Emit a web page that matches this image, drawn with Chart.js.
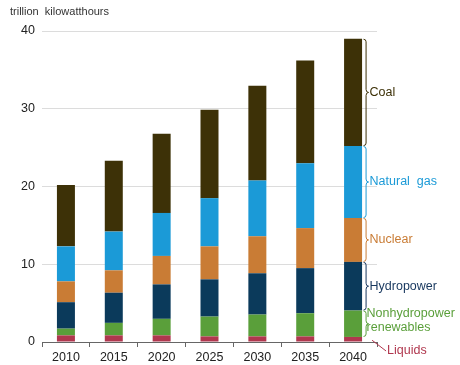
<!DOCTYPE html>
<html>
<head>
<meta charset="utf-8">
<script src="https://cdn.jsdelivr.net/npm/chart.js@4/dist/chart.umd.min.js"></script>
<style>
  body { margin: 0; background: #fff; }
  canvas { display: block; }
</style>
</head>
<body>
<canvas id="electricityChart" width="460" height="365"></canvas>
<script>
// Data (trillion kilowatthours)
const years = ['2010', '2015', '2020', '2025', '2030', '2035', '2040'];
const liquids = [0.85, 0.85, 0.85, 0.72, 0.72, 0.72, 0.65];
const renewables = [0.87, 1.61, 2.13, 2.55, 2.81, 2.98, 3.4];
const hydropower = [3.4, 3.88, 4.43, 4.79, 5.31, 5.8, 6.25];
const nuclear = [2.68, 2.88, 3.66, 4.24, 4.76, 5.15, 5.65];
const naturalGas = [4.5, 4.98, 5.53, 6.2, 7.16, 8.35, 9.25];
const coal = [7.9, 9.1, 10.2, 11.36, 12.19, 13.2, 13.8];
const yTicks = [0, 10, 20, 30, 40];

const seriesNames = ['Liquids', 'Nonhydropower\nrenewables', 'Hydropower', 'Nuclear', 'Natural  gas', 'Coal'];
const seriesColors = ['#b0374e', '#5a9f3a', '#0b3a5b', '#c97c35', '#1b9ad7', '#3d3107'];
const labelColors = ['#b0374e', '#5a9f3a', '#17375e', '#c97c35', '#1b9ad7', '#3d3107'];
const seriesData = [liquids, renewables, hydropower, nuclear, naturalGas, coal];

const FONT = '"Liberation Sans", Arial, sans-serif';

// braces + labels at the right of the last bar
const sideLabels = {
    id: 'sideLabels',
    afterDatasetsDraw(chart) {
        const ctx = chart.ctx;
        const last = years.length - 1;
        ctx.save();
        ctx.font = '12.5px ' + FONT;
        ctx.textBaseline = 'middle';
        ctx.textAlign = 'left';
        chart.data.datasets.forEach((ds, i) => {
            const bar = chart.getDatasetMeta(i).data[last];
            const right = bar.x + bar.width / 2;
            const top = bar.y;
            const bottom = bar.base;
            const mid = (top + bottom) / 2;
            ctx.strokeStyle = labelColors[i];
            ctx.fillStyle = labelColors[i];
            ctx.lineWidth = 1;
            if (i === 0) {
                // leader line for Liquids
                ctx.beginPath();
                ctx.moveTo(right + 10, mid + 1);
                ctx.lineTo(right + 24, chart.chartArea.bottom + 9);
                ctx.stroke();
                ctx.fillText(ds.label, right + 25, chart.chartArea.bottom + 9);
                return;
            }
            const x = right + 1.5;
            const w = 5;
            const r = 3;
            ctx.beginPath();
            ctx.moveTo(x, top + 0.5);
            ctx.quadraticCurveTo(x + w / 2, top + 0.5, x + w / 2, top + r);
            ctx.lineTo(x + w / 2, mid - r);
            ctx.quadraticCurveTo(x + w / 2, mid, x + w, mid);
            ctx.quadraticCurveTo(x + w / 2, mid, x + w / 2, mid + r);
            ctx.lineTo(x + w / 2, bottom - r);
            ctx.quadraticCurveTo(x + w / 2, bottom - 0.5, x, bottom - 0.5);
            ctx.stroke();
            const lines = ds.label.split('\n');
            const lh = 13.5;
            const shift = lines.length > 1 ? -3 : 0;
            const tx = lines.length > 1 ? x + w - 2 : x + w + 1;
            lines.forEach((t, k) => {
                ctx.fillText(t, tx, mid + shift + (k - (lines.length - 1) / 2) * lh);
            });
        });
        ctx.restore();
    },
    afterDraw(chart) {
        const ctx = chart.ctx;
        ctx.save();
        ctx.font = '11px ' + FONT;
        ctx.fillStyle = '#333';
        ctx.textBaseline = 'middle';
        ctx.fillText('trillion  kilowatthours', 10, 12);
        ctx.restore();
    }
};

const ctxChart = document.getElementById('electricityChart').getContext('2d');
const electricityChart = new Chart(ctxChart, {
    type: 'bar',
    data: {
        labels: years,
        datasets: seriesData.map((d, i) => ({
            label: seriesNames[i],
            data: d,
            backgroundColor: seriesColors[i],
            borderWidth: 0,
            barPercentage: 0.376,
            categoryPercentage: 1
        }))
    },
    options: {
        responsive: false,
        animation: false,
        layout: { padding: { top: 31, right: 83, bottom: 0, left: 0 } },
        plugins: { legend: { display: false }, tooltip: { enabled: false } },
        scales: {
            x: {
                stacked: true,
                grid: { offset: true, drawOnChartArea: false, drawTicks: true, tickLength: 5, color: '#666' },
                border: { display: true, color: '#666', width: 1 },
                ticks: { color: '#222', font: { family: FONT, size: 12.5 }, padding: 3, maxRotation: 0 },
                afterFit(scale) { scale.height = 23; }
            },
            y: {
                stacked: true,
                min: 0,
                max: 40,
                afterBuildTicks(scale) { scale.ticks = yTicks.map(v => ({ value: v })); },
                grid: {
                    drawTicks: false,
                    color: c => (c.tick && c.tick.value === 0) ? 'rgba(0,0,0,0)' : '#dcdcdc'
                },
                border: { display: false },
                ticks: { color: '#222', font: { family: FONT, size: 12.5 }, padding: 7 },
                afterFit(scale) { scale.width = 42; }
            }
        }
    },
    plugins: [sideLabels]
});
</script>
</body>
</html>
